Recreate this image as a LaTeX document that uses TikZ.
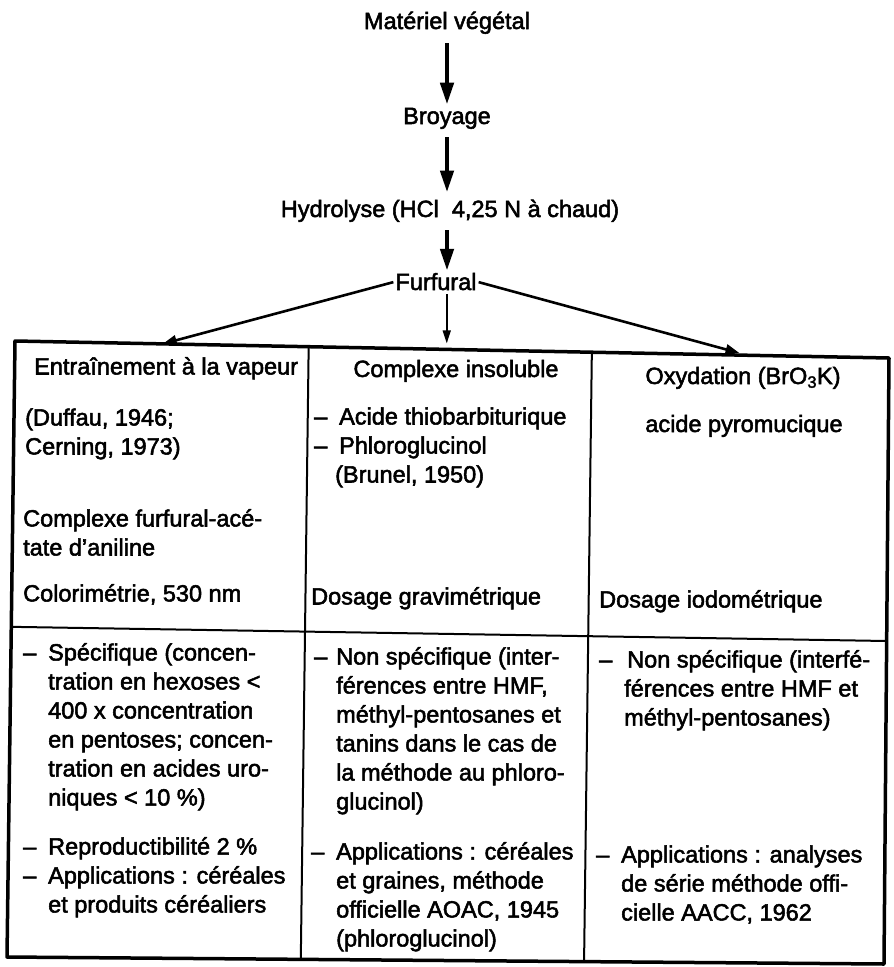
\documentclass[tikz,border=0pt]{standalone}
\usepackage{fontspec}
\setmainfont{Liberation Sans}
\newfontfamily\scanfont{Liberation Sans}[FakeBold=2.2]
\usetikzlibrary{arrows.meta,calc}
\newcommand\dsh{\makebox[25pt][l]{–}}
\newcommand\ind{\hspace*{25pt}}
\begin{document}
\begin{tikzpicture}[x=1pt,y=-1pt,
  txt/.style={inner sep=0pt, font=\scanfont\fontsize{23.5}{29}\selectfont, align=left},
  cell/.style={txt, anchor=north west},
  bigarrow/.style={line width=4.5pt, -{Triangle[width=13pt,length=22pt]}},
  thinarrow/.style={line width=2.6pt, -{Triangle[width=10pt,length=14pt]}},
  slimarrow/.style={line width=1.6pt, -{Triangle[width=8pt,length=13pt]}},
  border/.style={line width=3.5pt, line cap=round, line join=round},
  divider/.style={line width=2pt}]
\fill[white] (0,0) rectangle (894,967);
\useasboundingbox (0,0) rectangle (894,967);

% flow at the top
\node[txt, anchor=base] (mat) at (447,29) {Matériel végétal};
\node[txt, anchor=base] (broy) at (447,124) {Broyage};
\node[txt, anchor=base] (hyd) at (450,217) {Hydrolyse (HCl\ \ 4,25 N à chaud)};
\node[txt, anchor=base] (fur) at (436,290) {Furfural};
\coordinate (axis) at (447,0);

\draw[bigarrow, shorten <=9pt, shorten >=3pt] (axis |- mat.south) -- (axis |- broy.north);
\draw[bigarrow, shorten <=8pt, shorten >=7pt] (axis |- broy.south) -- (axis |- hyd.north);
\draw[bigarrow, shorten <=8pt, shorten >=2pt] (axis |- hyd.south) -- (axis |- fur.north);

% table frame
\coordinate (TL) at (15,341);
\coordinate (TR) at (889,358);
\coordinate (BL) at (7,957);
\coordinate (BR) at (884,964);
\coordinate (ML) at ($(TL)!0.464!(BL)$);
\coordinate (MR) at ($(TR)!0.467!(BR)$);
\coordinate (V1t) at ($(TL)!0.336!(TR)$);
\coordinate (V1b) at ($(BL)!0.335!(BR)$);
\coordinate (V2t) at ($(TL)!0.660!(TR)$);
\coordinate (V2b) at ($(BL)!0.658!(BR)$);
\coordinate (c1top) at ($(TL)!0.169!(TR)$);
\coordinate (c2top) at ($(TL)!0.494!(TR)+(0,-6)$);
\coordinate (c3top) at ($(TL)!0.829!(TR)+(0,-2)$);

\draw[border] (TL) -- (TR) -- (BR) -- (BL) -- cycle;
\draw[divider] (ML) -- (MR);
\draw[divider] (V1t) -- (V1b);
\draw[divider] (V2t) -- (V2b);

% arrows from Furfural
\draw[thinarrow, shorten <=2pt] (fur.west) -- (c1top);
\draw[thinarrow, shorten <=2pt] (fur.east) -- (c3top);
\draw[slimarrow, shorten <=4pt] (c2top |- fur.south) -- (c2top);

% column 1
\node[cell] (e1) at (34,354) {\strut Entraînement à la vapeur};
\node[cell] (d1) at (25,405) {\strut(Duffau, 1946;\\Cerning, 1973)};
\node[cell] (cf) at (23,506) {\strut Complexe furfural-acé-\\tate d’aniline};
\node[cell] (co) at (23,581) {\strut Colorimétrie, 530 nm};
\node[cell] (sp1) at (23,640) {\strut\dsh Spécifique (concen-\\\ind tration en hexoses <\\\ind 400 x concentration\\\ind en pentoses; concen-\\\ind tration en acides uro-\\\ind niques < 10 \%)};
\node[cell] (ap1) at (23,834) {\strut\dsh Reproductibilité 2 \%\\\dsh Applications : céréales\\\ind et produits céréaliers};

% column 2
\node[txt, anchor=base] (h2) at (456,377) {Complexe insoluble};
\node[cell] (ac) at (314,404) {\strut\dsh Acide thiobarbiturique\\\dsh Phloroglucinol\\\hspace*{21pt}(Brunel, 1950)};
\node[cell] (dg) at (311,584) {\strut Dosage gravimétrique};
\node[cell] (ns2) at (314,644) {\strut\makebox[22pt][l]{–}Non spécifique (inter-\\\hspace*{22pt}férences entre HMF,\\\hspace*{22pt}méthyl-pentosanes et\\\hspace*{22pt}tanins dans le cas de\\\hspace*{22pt}la méthode au phloro-\\\hspace*{22pt}glucinol)};
\node[cell] (ap2) at (311,839) {\strut\dsh Applications : céréales\\\ind et graines, méthode\\\ind officielle AOAC, 1945\\\ind (phloroglucinol)};

% column 3
\node[txt, anchor=base] (h3) at (743,384) {Oxydation (BrO\textsubscript{3}K)};
\node[txt, anchor=base] (apy) at (744,432) {acide pyromucique};
\node[cell] (di) at (599,587) {\strut Dosage iodométrique};
\node[cell] (ns3) at (599,647) {\strut\makebox[28pt][l]{–}Non spécifique (interfé-\\\ind férences entre HMF et\\\ind méthyl-pentosanes)};
\node[cell] (ap3) at (596,842) {\strut\dsh Applications : analyses\\\ind de série méthode offi-\\\ind cielle AACC, 1962};
\end{tikzpicture}
\end{document}
